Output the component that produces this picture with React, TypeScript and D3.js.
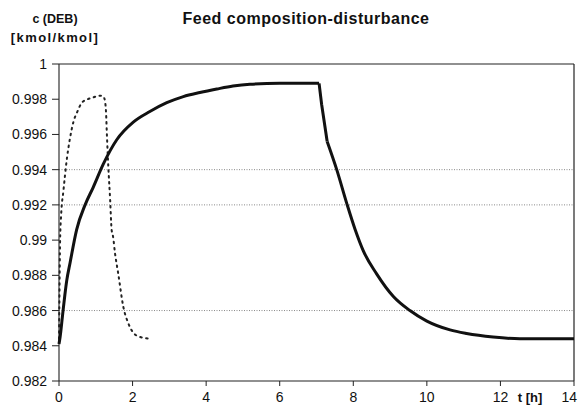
import React, { useEffect } from "react";
import * as d3 from "d3";

const solidT = [0, 0.03, 0.1, 0.16, 0.21, 0.3, 0.48, 0.71, 0.93, 1.2, 1.57, 2.02, 2.47, 2.93, 3.38, 3.83, 4.29, 4.73, 5.19, 6.0, 7.07, 7.14, 7.29, 7.55, 7.82, 8.05, 8.27, 8.63, 9.09, 9.54, 10.0, 10.63, 11.08, 11.8, 12.53, 14];
const solidC = [0.9841, 0.9845, 0.9858, 0.9869, 0.9877, 0.9887, 0.9906, 0.992, 0.993, 0.9943, 0.9957, 0.9967, 0.9973, 0.9978, 0.99815, 0.99838, 0.99858, 0.99875, 0.99885, 0.9989, 0.9989, 0.9977, 0.9956, 0.994, 0.9921, 0.9906, 0.9894, 0.9881, 0.9868, 0.986, 0.9854, 0.9849, 0.9847, 0.9845, 0.9844, 0.9844];

const dotT = [0, 0.01, 0.02, 0.03, 0.06, 0.12, 0.21, 0.3, 0.39, 0.5, 0.62, 0.78, 0.93, 1.08, 1.16, 1.22, 1.25, 1.28, 1.3, 1.34, 1.39, 1.43, 1.47, 1.52, 1.61, 1.75, 1.88, 2.0, 2.2, 2.52];
const dotC = [0.9844, 0.9865, 0.9885, 0.99, 0.9915, 0.9928, 0.99455, 0.9958, 0.9967, 0.9973, 0.9978, 0.998, 0.9981, 0.9982, 0.9982, 0.9981, 0.9979, 0.9972, 0.9961, 0.9942, 0.9923, 0.9906, 0.9902, 0.9893, 0.9881, 0.9862, 0.9853, 0.9848, 0.9845, 0.9844];

const yTicks = [0.982, 0.984, 0.986, 0.988, 0.99, 0.992, 0.994, 0.996, 0.998, 1];
const yTickLabels = ["0.982", "0.984", "0.986", "0.988", "0.99", "0.992", "0.994", "0.996", "0.998", "1"];
const xTicks = [0, 2, 4, 6, 8, 10, 12, 14];
const gridValues = [0.986, 0.992, 0.994];

const titleText = "Feed composition-disturbance";
const yLabel1 = "c (DEB)";
const yLabel2 = "[kmol/kmol]";
const xLabel = "t [h]";

export default function App() {
  useEffect(() => {
    document.body.style.margin = "0";
  }, []);

  const W = 578, H = 405;
  const x = d3.scaleLinear().domain([0, 14]).range([59, 574]);
  const y = d3.scaleLinear().domain([0.982, 1]).range([381, 64]);
  const font = "'Liberation Sans', Arial, sans-serif";

  const solidData = solidT.map((t, i) => [t, solidC[i]] as [number, number]);
  const dotData = dotT.map((t, i) => [t, dotC[i]] as [number, number]);
  const line = d3.line<[number, number]>().x(d => x(d[0])).y(d => y(d[1])).curve(d3.curveMonotoneX);
  const lineLin = d3.line<[number, number]>().x(d => x(d[0])).y(d => y(d[1]));

  const solidA = solidData.filter(d => d[0] <= 7.07);
  const solidB = solidData.filter(d => d[0] >= 7.07 && d[0] <= 7.29);
  const solidC2 = solidData.filter(d => d[0] >= 7.29);

  return (
    <svg width={W} height={H} style={{ display: "block", background: "#fff" }} fontFamily={font}>
      <text x={306} y={24} textAnchor="middle" fontSize={16} fontWeight="bold" letterSpacing={0.5} fill="#111">{titleText}</text>
      <text x={55} y={23} textAnchor="middle" fontSize={12.5} fontWeight="bold" fill="#111">{yLabel1}</text>
      <text x={55} y={42} textAnchor="middle" fontSize={13} fontWeight="bold" letterSpacing={1.4} fill="#111">{yLabel2}</text>

      {gridValues.map(v => (
        <line key={v} x1={x(0)} x2={x(14)} y1={y(v)} y2={y(v)} stroke="#888" strokeWidth={1} strokeDasharray="1,1.5" />
      ))}

      <line x1={x(0)} x2={x(14)} y1={y(1)} y2={y(1)} stroke="#222" strokeWidth={1.2} />
      <line x1={x(14)} x2={x(14)} y1={y(1)} y2={y(0.982)} stroke="#222" strokeWidth={1.2} />
      <line x1={x(0)} x2={x(0)} y1={y(1)} y2={y(0.982)} stroke="#333" strokeWidth={1.2} />
      <line x1={x(0)} x2={x(14)} y1={y(0.982)} y2={y(0.982)} stroke="#222" strokeWidth={1.2} />

      {yTicks.map((v, i) => (
        <g key={v}>
          <line x1={x(0) - 7} x2={x(0)} y1={y(v)} y2={y(v)} stroke="#222" strokeWidth={1} />
          <text x={47} y={y(v) + 5} textAnchor="end" fontSize={14} fill="#111">{yTickLabels[i]}</text>
        </g>
      ))}
      {xTicks.map(v => (
        <g key={v}>
          <line x1={x(v)} x2={x(v)} y1={y(0.982)} y2={y(0.982) + 5} stroke="#222" strokeWidth={1} />
          <text x={v === 14 ? 577 : x(v)} y={402} textAnchor={v === 14 ? "end" : "middle"} fontSize={14} fill="#111">{v}</text>
        </g>
      ))}
      <text x={530} y={402} textAnchor="middle" fontSize={13} fontWeight="bold" fill="#111">{xLabel}</text>

      <path d={line(dotData) || ""} fill="none" stroke="#222" strokeWidth={2} strokeDasharray="1.5,4.5" strokeLinecap="round" />
      <path d={line(solidA) || ""} fill="none" stroke="#111" strokeWidth={3} strokeLinejoin="round" />
      <path d={lineLin(solidB) || ""} fill="none" stroke="#111" strokeWidth={3} strokeLinejoin="round" />
      <path d={line(solidC2) || ""} fill="none" stroke="#111" strokeWidth={3} strokeLinejoin="round" />
    </svg>
  );
}
